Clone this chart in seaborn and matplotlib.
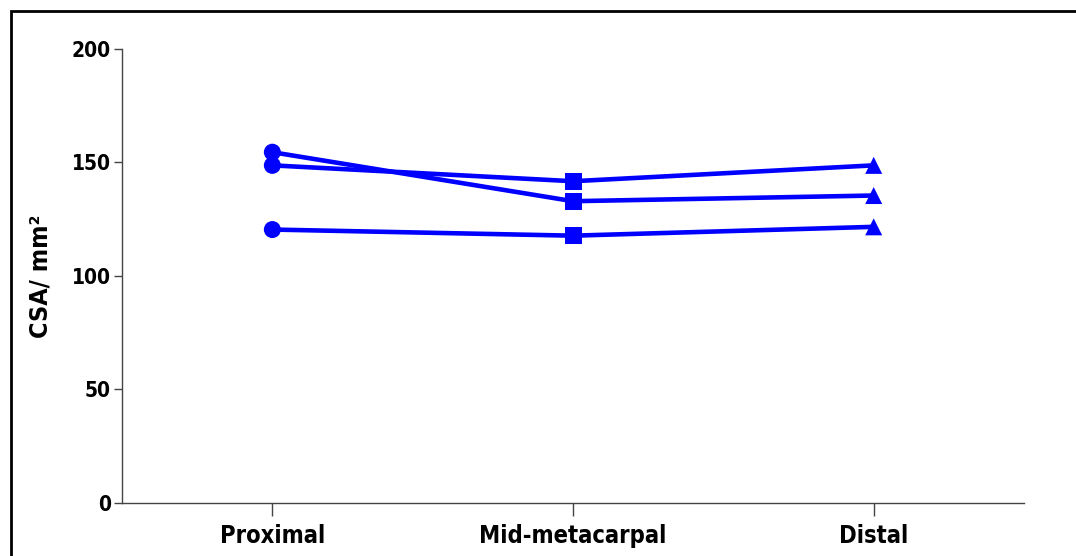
import matplotlib
matplotlib.use("Agg")
import matplotlib.pyplot as plt
import seaborn as sns
import pandas as pd
from matplotlib.patches import Rectangle

positions = ["Proximal", "Mid-metacarpal", "Distal"]
subject_a = [154.5, 132.9, 135.4]
subject_b = [148.7, 141.7, 148.7]
subject_c = [120.4, 117.7, 121.6]
y_ticks = [0, 50, 100, 150, 200]

rows = []
for name, vals in [("A", subject_a), ("B", subject_b), ("C", subject_c)]:
    for i, (p, v) in enumerate(zip(positions, vals)):
        rows.append({"subject": name, "pos": i, "position": p, "csa": v})
df = pd.DataFrame(rows)

sns.set_theme(style="ticks")
font = ["DejaVu Sans", "Liberation Sans"]
plt.rcParams["font.family"] = font
plt.rcParams["font.stretch"] = "condensed"
plt.rcParams["text.color"] = "black"
plt.rcParams["axes.labelcolor"] = "black"
plt.rcParams["xtick.labelcolor"] = "black"
plt.rcParams["ytick.labelcolor"] = "black"

fig = plt.figure(figsize=(10.76, 5.56), dpi=100)
ax = fig.add_axes([0.1134, 0.0959, 0.8383, 0.816])

blue = "#0000FF"
sns.lineplot(data=df, x="pos", y="csa", units="subject", estimator=None,
             color=blue, linewidth=3.3, ax=ax, legend=False)
sns.scatterplot(data=df, x="pos", y="csa", style="position",
                markers={"Proximal": "o", "Mid-metacarpal": "s", "Distal": "^"},
                color=blue, s=150, edgecolor=blue, linewidth=0, ax=ax,
                legend=False, zorder=3)

ax.set_xlim(-0.5, 2.5)
ax.set_ylim(0, 200)
ax.set_yticks(y_ticks)
ax.set_xticks(range(len(positions)))
ax.set_xticklabels(positions, fontsize=17, fontweight="bold")
ax.set_yticklabels([str(t) for t in y_ticks], fontsize=15, fontweight="bold")
ax.set_xlabel("")
ax.set_ylabel("CSA/ mm\u00b2", fontsize=18, fontweight="bold", labelpad=14)

for s in ["top", "right"]:
    ax.spines[s].set_visible(False)
for s in ["left", "bottom"]:
    ax.spines[s].set_color("#444444")
    ax.spines[s].set_linewidth(1.0)
ax.tick_params(axis="y", direction="out", length=6, width=1, color="#444444", pad=2)
ax.tick_params(axis="x", direction="out", length=9, width=1, color="#444444", pad=6)

fig.patches.append(Rectangle((11/1076, -0.1), 1.2, (545/556) + 0.1,
                             transform=fig.transFigure, fill=False,
                             edgecolor="black", linewidth=2))

fig.savefig("out.png", dpi=100)
